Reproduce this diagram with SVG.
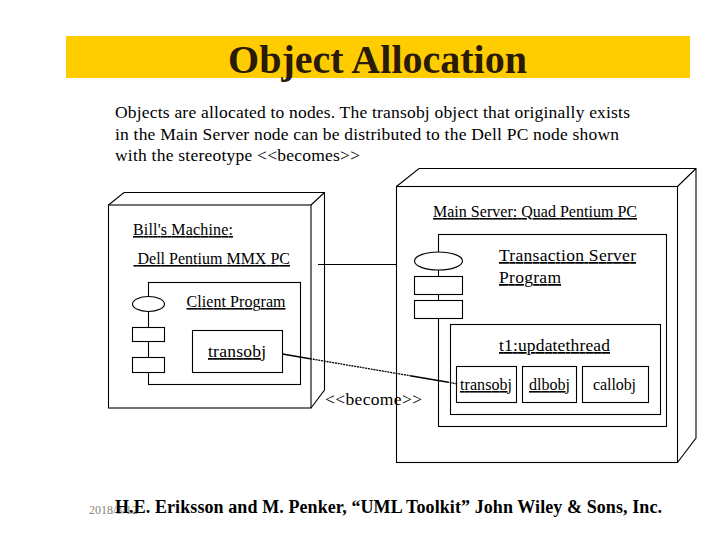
<svg xmlns="http://www.w3.org/2000/svg" width="720" height="540" viewBox="0 0 720 540">
<style>
text{font-family:"Liberation Serif","Times New Roman",serif;fill:#000;white-space:pre}
.d{font-size:17.500px}
.l{font-size:16px}
.h{font-size:17.500px}
.o{font-size:16px}
.u{text-decoration:underline}
.s{fill:#fff;stroke:#000;stroke-width:1.100}
.n{fill:none;stroke:#000;stroke-width:1.100}
.c{fill:none;stroke:#000;stroke-width:1.600}
.t{fill:none;stroke:#000;stroke-width:1.300;stroke-dasharray:2 0.800}
</style>
<rect x="0" y="0" width="720" height="540" fill="#fff"/>
<rect x="66" y="36" width="624" height="42" fill="#ffcc00"/>
<text x="228" y="73" font-size="40" font-weight="bold" textLength="299" style="fill:#2a1a08">Object Allocation</text>
<g id="desc">
<text class="d" x="115" y="118" textLength="515">Objects are allocated to nodes. The transobj object that originally exists</text>
<text class="d" x="115" y="140" textLength="504">in the Main Server node can be distributed to the Dell PC node shown</text>
<text class="d" x="115" y="161" textLength="245">with the stereotype &lt;&lt;becomes&gt;&gt;</text>
</g>
<g id="bills-machine">
<path class="n" d="M108.500 205L124 192.500H324.500V390L311 408M311 205L324.500 192.500"/>
<rect class="s" x="108.500" y="205" width="202.500" height="203"/>
<text class="l u" x="133" y="235" textLength="100">Bill's Machine:</text>
<text class="l u" x="133.500" y="264" textLength="156.500"> Dell Pentium MMX PC</text>
<g id="client-program">
<rect class="s" x="148.500" y="282.500" width="152" height="102"/>
<text class="l u" x="186.500" y="307" textLength="99">Client Program</text>
<ellipse class="s" cx="148.500" cy="304" rx="16" ry="7.500"/>
<rect class="s" x="132.500" y="327.500" width="32" height="14"/>
<rect class="s" x="132.500" y="357.500" width="32" height="15"/>
<rect class="s" x="192.500" y="330.500" width="90" height="42"/>
<text class="h u" x="208" y="357" textLength="58">transobj</text>
</g>
</g>
<g id="main-server">
<path class="n" d="M396.500 186.500L419 168.500H696V438L677.500 462.500M677.500 186.500L696 168.500"/>
<rect class="s" x="396.500" y="186.500" width="281" height="276"/>
<text class="l u" x="433" y="217" textLength="204">Main Server: Quad Pentium PC</text>
<g id="transaction-server">
<rect class="s" x="438.500" y="234.500" width="228" height="192"/>
<text class="h u" x="499" y="261" textLength="137">Transaction Server</text>
<text class="h u" x="499" y="283" textLength="62">Program</text>
<ellipse class="s" cx="438.500" cy="261" rx="24" ry="9"/>
<rect class="s" x="414.500" y="276.500" width="48" height="18"/>
<rect class="s" x="414.500" y="300.500" width="48" height="18"/>
<g id="updatethread">
<rect class="s" x="450.500" y="324.500" width="210" height="90"/>
<text class="h u" x="499" y="351" textLength="111">t1:updatethread</text>
<rect class="s" x="456.500" y="366.500" width="60" height="36"/>
<text class="o u" x="460" y="390" textLength="52">transobj</text>
<rect class="s" x="522.500" y="366.500" width="54" height="36"/>
<text class="o u" x="529" y="390" textLength="41">dlbobj</text>
<rect class="s" x="582.500" y="366.500" width="66" height="36"/>
<text class="o" x="593" y="390" textLength="43">callobj</text>
</g>
</g>
</g>
<g id="connectors">
<path class="n" d="M318 264.500H396.500"/>
<path class="c" d="M282.500 354L310 358.700"/>
<path class="t" d="M310 358.700L410 375.700"/>
<path class="c" d="M410 375.700L447 382"/>
<path class="t" d="M447 382L458 384"/>
</g>
<text class="h" x="325" y="405" textLength="97">&lt;&lt;become&gt;&gt;</text>
<text x="89" y="514" font-size="12" style="fill:#8a8578">2018/3/12</text>
<text x="115" y="513" font-size="18" font-weight="bold" textLength="547">H.E. Eriksson and M. Penker, “UML Toolkit” John Wiley &amp; Sons, Inc.</text>
</svg>
